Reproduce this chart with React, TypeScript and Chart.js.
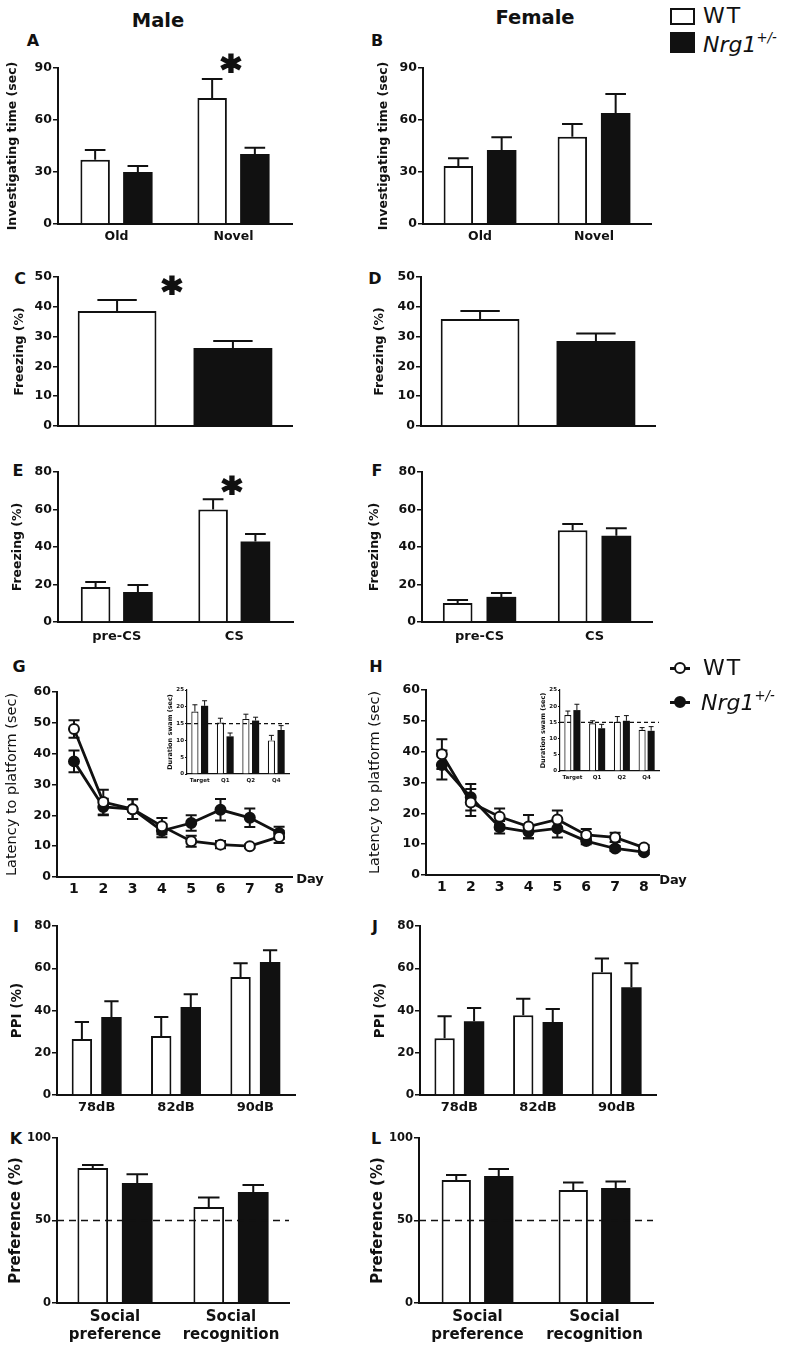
import React, { useEffect, useRef } from "react";
import { Chart, registerables } from "chart.js";

Chart.register(...registerables);

const FONT = "'DejaVu Sans', 'Liberation Sans', Arial, sans-serif";
const INK = "#111111";

// ---------------- DATA ----------------
const SERIES = ["WT", "Nrg1+/-"];

const A_CATS = ["Old", "Novel"];
const A_TICKS = [0, 30, 60, 90];
const A_WT = [37, 72.7];
const A_WT_SEM = [5.7, 11];
const A_NRG = [30, 40.4];
const A_NRG_SEM = [3.5, 3.6];

const B_WT = [33.5, 50.4];
const B_WT_SEM = [4.5, 7.3];
const B_NRG = [42.7, 64];
const B_NRG_SEM = [7.3, 11];

const CD_CATS = [""];
const CD_TICKS = [0, 10, 20, 30, 40, 50];
const C_WT = [38.6];
const C_WT_SEM = [3.7];
const C_NRG = [26.2];
const C_NRG_SEM = [2.3];
const D_WT = [35.9];
const D_WT_SEM = [2.7];
const D_NRG = [28.5];
const D_NRG_SEM = [2.5];

const EF_CATS = ["pre-CS", "CS"];
const EF_TICKS = [0, 20, 40, 60, 80];
const E_WT = [18.7, 60];
const E_WT_SEM = [2.6, 5.5];
const E_NRG = [16, 43];
const E_NRG_SEM = [3.7, 4];
const F_WT = [10.1, 49];
const F_WT_SEM = [1.6, 3.3];
const F_NRG = [13.4, 46];
const F_NRG_SEM = [2.1, 4];

const DAYS = [1, 2, 3, 4, 5, 6, 7, 8];
const GH_TICKS = [0, 10, 20, 30, 40, 50, 60];
const G_WT = [48, 24.3, 22, 16.5, 11.6, 10.5, 10, 13];
const G_WT_SEM = [2.8, 4, 3.2, 2.6, 1.8, 1.2, 0.6, 2];
const G_NRG = [37.5, 22.7, 22, 15, 17.5, 21.8, 19.2, 14.3];
const G_NRG_SEM = [3.5, 2.7, 3.2, 2.1, 2.5, 3.5, 3, 2];
const H_WT = [39.2, 23.5, 18.9, 15.7, 18, 13, 12.2, 8.9];
const H_WT_SEM = [4.8, 4.4, 2.7, 3.8, 2.9, 1.9, 1.5, 0.8];
const H_NRG = [35.7, 25.2, 15.5, 14, 15.1, 11, 8.6, 7.4];
const H_NRG_SEM = [4.7, 4.3, 2, 2.1, 2.9, 1, 0.8, 0.6];

const INSET_CATS = ["Target", "Q1", "Q2", "Q4"];
const INSET_TICKS = [0, 5, 10, 15, 20, 25];
const QUAD_CHANCE = 15;
const GI_WT = [18.6, 15.3, 16.4, 10];
const GI_WT_SEM = [2, 1.3, 1.4, 1.5];
const GI_NRG = [20.3, 11.2, 15.9, 13.1];
const GI_NRG_SEM = [1.5, 1, 1, 1.3];
const HI_WT = [17.3, 14.7, 15.2, 12.7];
const HI_WT_SEM = [1.2, 0.8, 1.6, 0.7];
const HI_NRG = [18.8, 13.2, 15.5, 12.4];
const HI_NRG_SEM = [1.8, 1.2, 1.6, 1.3];

const IJ_CATS = ["78dB", "82dB", "90dB"];
const IJ_TICKS = [0, 20, 40, 60, 80];
const I_WT = [26.5, 27.9, 55.8];
const I_WT_SEM = [8, 9, 6.6];
const I_NRG = [36.9, 41.6, 63];
const I_NRG_SEM = [7.5, 6.1, 5.5];
const J_WT = [26.9, 37.8, 58.1];
const J_WT_SEM = [10.4, 7.8, 6.5];
const J_NRG = [34.9, 34.5, 51];
const J_NRG_SEM = [6.3, 6.2, 11.4];

const KL_CATS = [["Social", "preference"], ["Social", "recognition"]];
const KL_TICKS = [0, 50, 100];
const PREF_CHANCE = 50;
const K_WT = [81.8, 58.2];
const K_WT_SEM = [1.8, 5.8];
const K_NRG = [72.7, 67.3];
const K_NRG_SEM = [5.3, 4.2];
const L_WT = [74.5, 68.5];
const L_WT_SEM = [3.1, 4.5];
const L_NRG = [77, 69.7];
const L_NRG_SEM = [4.2, 3.9];

// ---------------- PLUGINS ----------------
function drawErrors(chart: any, opts: any) {
  const ctx = chart.ctx;
  const ys = chart.scales.y;
  ctx.save();
  ctx.strokeStyle = INK;
  ctx.lineWidth = opts.width ?? 2;
  chart.data.datasets.forEach((ds: any, i: number) => {
    const errs = ds.errors;
    if (!errs) return;
    const meta = chart.getDatasetMeta(i);
    meta.data.forEach((el: any, j: number) => {
      const raw = ds.data[j];
      const v = typeof raw === "number" ? raw : raw.y;
      const e = errs[j];
      const x = el.x;
      const yHi = ys.getPixelForValue(v + e);
      const both = opts.mode === "both";
      const yLo = both ? ys.getPixelForValue(v - e) : el.y;
      const cap = opts.cap ?? Math.min((el.width || 10) * (opts.capFrac ?? 0.7), 40);
      ctx.beginPath();
      ctx.moveTo(x, yLo);
      ctx.lineTo(x, yHi);
      ctx.moveTo(x - cap / 2, yHi);
      ctx.lineTo(x + cap / 2, yHi);
      if (both) {
        ctx.moveTo(x - cap / 2, yLo);
        ctx.lineTo(x + cap / 2, yLo);
      }
      ctx.stroke();
    });
  });
  ctx.restore();
}

const errorBarPlugin = {
  id: "errbars",
  beforeDatasetsDraw(chart: any, _a: any, opts: any) {
    if (opts && opts.mode === "both") drawErrors(chart, opts);
  },
  afterDatasetsDraw(chart: any, _a: any, opts: any) {
    if (opts && opts.mode === "up") drawErrors(chart, opts);
  },
};

const refLinePlugin = {
  id: "refline",
  afterDatasetsDraw(chart: any, _a: any, opts: any) {
    if (!opts || opts.value == null) return;
    const { ctx, chartArea } = chart;
    const py = chart.scales.y.getPixelForValue(opts.value);
    ctx.save();
    ctx.strokeStyle = INK;
    ctx.lineWidth = opts.width ?? 1.5;
    ctx.setLineDash([opts.on ?? 6, opts.off ?? 4]);
    ctx.beginPath();
    ctx.moveTo(chartArea.left, py);
    ctx.lineTo(chartArea.right, py);
    ctx.stroke();
    ctx.restore();
  },
};

Chart.register(errorBarPlugin as any, refLinePlugin as any);

// ---------------- LAYOUT ----------------
type Geo = {
  x0: number; x1: number; yTop: number; yZero: number;
  titleX: number; titleSize: number; xh: number; padTop?: number; padRight?: number;
};
type Frame = { left: number; top: number; width: number; height: number; yw: number; padTop: number; padRight: number; xh: number };

function frame(g: Geo): Frame {
  const lh = g.titleSize * 1.2;
  const left = Math.round(g.titleX - lh / 2);
  const padTop = g.padTop ?? 10;
  const padRight = g.padRight ?? 6;
  const top = g.yTop - padTop;
  return {
    left, top,
    width: g.x1 - left + padRight,
    height: g.yZero - top + g.xh,
    yw: g.x0 - left, padTop, padRight, xh: g.xh,
  };
}

const GEO: Record<string, Geo> = {
  A: { x0: 58, x1: 292, yTop: 68, yZero: 224, titleX: 12, titleSize: 12.5, xh: 28 },
  B: { x0: 423, x1: 651, yTop: 68, yZero: 224, titleX: 383, titleSize: 12.5, xh: 28 },
  C: { x0: 58, x1: 292, yTop: 277, yZero: 426, titleX: 19, titleSize: 12.5, xh: 10 },
  D: { x0: 421, x1: 655, yTop: 277, yZero: 426, titleX: 379, titleSize: 12.5, xh: 10 },
  E: { x0: 58, x1: 293, yTop: 472, yZero: 622, titleX: 17, titleSize: 12.5, xh: 28 },
  F: { x0: 422, x1: 652, yTop: 472, yZero: 622, titleX: 374, titleSize: 12.5, xh: 28 },
  G: { x0: 57, x1: 293, yTop: 692, yZero: 877, titleX: 13, titleSize: 14.5, xh: 25 },
  H: { x0: 426, x1: 660, yTop: 690, yZero: 875, titleX: 376, titleSize: 14.5, xh: 25 },
  GI: { x0: 187, x1: 289, yTop: 690, yZero: 774, titleX: 170, titleSize: 6.5, xh: 14, padTop: 5, padRight: 3 },
  HI: { x0: 560, x1: 659, yTop: 690, yZero: 771, titleX: 543, titleSize: 6.5, xh: 14, padTop: 5, padRight: 3 },
  I: { x0: 57, x1: 295, yTop: 926, yZero: 1095, titleX: 17, titleSize: 13.5, xh: 26 },
  J: { x0: 420, x1: 656, yTop: 926, yZero: 1095, titleX: 380, titleSize: 13.5, xh: 26 },
  K: { x0: 57, x1: 289, yTop: 1138, yZero: 1303, titleX: 16, titleSize: 15, xh: 45 },
  L: { x0: 419, x1: 653, yTop: 1138, yZero: 1303, titleX: 378, titleSize: 15, xh: 45 },
};

// ---------------- CONFIG BUILDERS ----------------
function yScale(f: Frame, ticks: number[], title: string, o: any) {
  return {
    type: "linear",
    position: "left",
    min: ticks[0],
    max: ticks[ticks.length - 1],
    afterBuildTicks: (s: any) => { s.ticks = ticks.map((v) => ({ value: v })); },
    ticks: { color: INK, font: { family: FONT, size: o.tickSize, weight: "bold" }, padding: o.tickPad ?? 1 },
    grid: { display: true, drawOnChartArea: false, drawTicks: true, tickLength: o.tickLen ?? 5, color: INK, lineWidth: o.gridW ?? 1.5 },
    border: { display: true, color: INK, width: o.axisW ?? 2 },
    title: {
      display: true, text: title, color: INK, padding: 0,
      font: { family: FONT, size: o.titleSize, weight: o.titleWeight ?? "bold" },
    },
    afterFit: (s: any) => { s.width = f.yw; },
  };
}

function xCat(f: Frame, o: any) {
  return {
    type: "category",
    position: "bottom",
    grid: { display: false, drawTicks: false },
    border: { display: true, color: INK, width: o.axisW ?? 2 },
    ticks: { color: INK, font: { family: FONT, size: o.catSize, weight: "bold" }, padding: o.catPad, maxRotation: 0, autoSkip: false },
    afterFit: (s: any) => { s.height = f.xh; },
  };
}

function baseOptions(f: Frame, scales: any, plugins: any) {
  return {
    responsive: false,
    maintainAspectRatio: false,
    animation: false,
    devicePixelRatio: 1,
    events: [],
    layout: { padding: { top: f.padTop, right: f.padRight, left: 0, bottom: 0 } },
    scales,
    plugins: { legend: { display: false }, tooltip: { enabled: false }, ...plugins },
  };
}

function barConfig(f: Frame, p: any) {
  const bw = p.bw ?? 2;
  return {
    type: "bar",
    data: {
      labels: p.cats,
      datasets: [
        { label: SERIES[0], data: p.wt, errors: p.wtErr, backgroundColor: "#ffffff", borderColor: INK, borderWidth: bw, categoryPercentage: p.cp, barPercentage: p.bp },
        { label: SERIES[1], data: p.nrg, errors: p.nrgErr, backgroundColor: INK, borderColor: INK, borderWidth: 0, categoryPercentage: p.cp, barPercentage: p.bp },
      ],
    },
    options: baseOptions(f, { x: xCat(f, p), y: yScale(f, p.ticks, p.title, p) }, {
      errbars: { mode: "up", width: p.errW ?? 2, capFrac: p.capFrac ?? 0.7 },
      refline: { value: p.ref ?? null, on: p.dashOn, off: p.dashOff, width: p.refW },
    }),
  };
}

function lineConfig(f: Frame, p: any) {
  const pts = (arr: number[]) => DAYS.map((d, i) => ({ x: d, y: arr[i] }));
  const common = { borderColor: INK, borderWidth: 2.8, pointRadius: 5, pointBorderWidth: 2, pointBorderColor: INK, fill: false, tension: 0 };
  return {
    type: "line",
    data: {
      datasets: [
        { label: SERIES[0], data: pts(p.wt), errors: p.wtErr, ...common, pointBackgroundColor: "#ffffff", backgroundColor: "#ffffff" },
        { label: SERIES[1], data: pts(p.nrg), errors: p.nrgErr, ...common, pointBackgroundColor: INK, backgroundColor: INK },
      ],
    },
    options: baseOptions(f, {
      x: {
        type: "linear",
        position: "bottom",
        min: p.xmin,
        max: p.xmax,
        afterBuildTicks: (s: any) => { s.ticks = DAYS.map((v) => ({ value: v })); },
        grid: { display: false, drawTicks: false },
        border: { display: true, color: INK, width: 2 },
        ticks: { color: INK, font: { family: FONT, size: 14, weight: "bold" }, padding: 3.5, maxRotation: 0, autoSkip: false },
        afterFit: (s: any) => { s.height = f.xh; },
      },
      y: yScale(f, GH_TICKS, "Latency to platform (sec)", { tickSize: 12.5, titleSize: 14.5, titleWeight: "normal" }),
    }, {
      errbars: { mode: "both", width: 2, cap: 11 },
      refline: { value: null },
    }),
  };
}

// ---------------- COMPONENTS ----------------
function ChartBox({ geo, build }: { geo: Geo; build: (f: Frame) => any }) {
  const ref = useRef<HTMLCanvasElement | null>(null);
  const f = frame(geo);
  useEffect(() => {
    const chart = new Chart(ref.current as HTMLCanvasElement, build(f));
    return () => chart.destroy();
  }, []);
  return (
    <canvas
      ref={ref}
      width={f.width}
      height={f.height}
      style={{ position: "absolute", left: f.left, top: f.top, width: f.width, height: f.height }}
    />
  );
}

function Txt({ x, y, size, weight = "bold", italic = false, anchor = "center", spacing = 0, children }: any) {
  return (
    <div
      style={{
        position: "absolute", left: x, top: y,
        transform: anchor === "center" ? "translate(-50%, -50%)" : "translate(0, -50%)",
        fontFamily: FONT, fontSize: size, fontWeight: weight, fontStyle: italic ? "italic" : "normal",
        lineHeight: 1, whiteSpace: "nowrap", color: INK, letterSpacing: spacing,
      }}
    >
      {children}
    </div>
  );
}

function Star({ x, y }: { x: number; y: number }) {
  const size = 38;
  return (
    <div style={{ position: "absolute", left: x, top: y - 0.3 * size, transform: "translateX(-50%)", fontFamily: FONT, fontWeight: "bold", fontSize: size, lineHeight: 1, color: INK, WebkitTextStroke: `2.2px ${INK}` } as any}>
      *
    </div>
  );
}

function NrgLabel({ x, y, size }: { x: number; y: number; size: number }) {
  return (
    <Txt x={x} y={y} size={size} weight="normal" italic anchor="left">
      Nrg1<span style={{ fontSize: "0.6em", position: "relative", top: "-0.75em" }}>+/-</span>
    </Txt>
  );
}

function LineKey({ x, y, filled }: { x: number; y: number; filled: boolean }) {
  return (
    <>
      <div style={{ position: "absolute", left: x, top: y - 1.5, width: 20, height: 3, background: INK }} />
      <div style={{ position: "absolute", left: x + 4, top: y - 6, width: 8, height: 8, borderRadius: "50%", border: `2px solid ${INK}`, background: filled ? INK : "#fff" }} />
    </>
  );
}

export default function App() {
  const barA = (f: Frame) => barConfig(f, { cats: A_CATS, wt: A_WT, wtErr: A_WT_SEM, nrg: A_NRG, nrgErr: A_NRG_SEM, ticks: A_TICKS, title: "Investigating time (sec)", tickSize: 12.5, catSize: 12.5, catPad: 5.5, titleSize: 12.5, cp: 0.73, bp: 0.69 });
  const barB = (f: Frame) => barConfig(f, { cats: A_CATS, wt: B_WT, wtErr: B_WT_SEM, nrg: B_NRG, nrgErr: B_NRG_SEM, ticks: A_TICKS, title: "Investigating time (sec)", tickSize: 12.5, catSize: 12.5, catPad: 5.5, titleSize: 12.5, cp: 0.76, bp: 0.68 });
  const barC = (f: Frame) => barConfig(f, { cats: CD_CATS, wt: C_WT, wtErr: C_WT_SEM, nrg: C_NRG, nrgErr: C_NRG_SEM, ticks: CD_TICKS, title: "Freezing (%)", tickSize: 12.5, catSize: 12, catPad: 4, titleSize: 12.5, cp: 0.99, bp: 0.68, capFrac: 0.5 });
  const barD = (f: Frame) => barConfig(f, { cats: CD_CATS, wt: D_WT, wtErr: D_WT_SEM, nrg: D_NRG, nrgErr: D_NRG_SEM, ticks: CD_TICKS, title: "Freezing (%)", tickSize: 12.5, catSize: 12, catPad: 4, titleSize: 12.5, cp: 0.99, bp: 0.68, capFrac: 0.5 });
  const barE = (f: Frame) => barConfig(f, { cats: EF_CATS, wt: E_WT, wtErr: E_WT_SEM, nrg: E_NRG, nrgErr: E_NRG_SEM, ticks: EF_TICKS, title: "Freezing (%)", tickSize: 12.5, catSize: 13, catPad: 7, titleSize: 12.5, cp: 0.72, bp: 0.7 });
  const barF = (f: Frame) => barConfig(f, { cats: EF_CATS, wt: F_WT, wtErr: F_WT_SEM, nrg: F_NRG, nrgErr: F_NRG_SEM, ticks: EF_TICKS, title: "Freezing (%)", tickSize: 12.5, catSize: 13, catPad: 7, titleSize: 12.5, cp: 0.76, bp: 0.68 });
  const lineG = (f: Frame) => lineConfig(f, { wt: G_WT, wtErr: G_WT_SEM, nrg: G_NRG, nrgErr: G_NRG_SEM, xmin: 0.42, xmax: 8.44 });
  const lineH = (f: Frame) => lineConfig(f, { wt: H_WT, wtErr: H_WT_SEM, nrg: H_NRG, nrgErr: H_NRG_SEM, xmin: 0.45, xmax: 8.52 });
  const inset = (wt: number[], wtErr: number[], nrg: number[], nrgErr: number[], cp: number, bp: number) => (f: Frame) =>
    barConfig(f, {
      cats: INSET_CATS, wt, wtErr, nrg, nrgErr, ticks: INSET_TICKS, title: "Duration swam (sec)",
      tickSize: 5.5, catSize: 5.5, catPad: 3.5, titleSize: 6.5, cp, bp, bw: 1.2, errW: 1, capFrac: 0.7,
      tickLen: 2, gridW: 1, axisW: 1.2, tickPad: 1, ref: QUAD_CHANCE, dashOn: 4, dashOff: 3, refW: 1.3,
    });
  const barI = (f: Frame) => barConfig(f, { cats: IJ_CATS, wt: I_WT, wtErr: I_WT_SEM, nrg: I_NRG, nrgErr: I_NRG_SEM, ticks: IJ_TICKS, title: "PPI (%)", tickSize: 12, catSize: 13, catPad: 5, titleSize: 13.5, cp: 0.745, bp: 0.69 });
  const barJ = (f: Frame) => barConfig(f, { cats: IJ_CATS, wt: J_WT, wtErr: J_WT_SEM, nrg: J_NRG, nrgErr: J_NRG_SEM, ticks: IJ_TICKS, title: "PPI (%)", tickSize: 12, catSize: 13, catPad: 5, titleSize: 13.5, cp: 0.75, bp: 0.69 });
  const barK = (f: Frame) => barConfig(f, { cats: KL_CATS, wt: K_WT, wtErr: K_WT_SEM, nrg: K_NRG, nrgErr: K_NRG_SEM, ticks: KL_TICKS, title: "Preference (%)", tickSize: 11.5, catSize: 15, catPad: 5, titleSize: 15, cp: 0.767, bp: 0.69, ref: PREF_CHANCE, dashOn: 7, dashOff: 5, refW: 1.5 });
  const barL = (f: Frame) => barConfig(f, { cats: KL_CATS, wt: L_WT, wtErr: L_WT_SEM, nrg: L_NRG, nrgErr: L_NRG_SEM, ticks: KL_TICKS, title: "Preference (%)", tickSize: 11.5, catSize: 15, catPad: 5, titleSize: 15, cp: 0.726, bp: 0.69, ref: PREF_CHANCE, dashOn: 7, dashOff: 5, refW: 1.5 });

  return (
    <div style={{ position: "absolute", left: 0, top: 0, width: 786, height: 1348, background: "#ffffff", overflow: "hidden" }}>
      <Txt x={158} y={21} size={19.5}>Male</Txt>
      <Txt x={535} y={18} size={19.5}>Female</Txt>

      {/* top legend */}
      <div style={{ position: "absolute", left: 670, top: 8, width: 25, height: 17, boxSizing: "border-box", border: `2px solid ${INK}`, background: "#fff" }} />
      <Txt x={703} y={16} size={22} weight="normal" anchor="left" spacing={2}>{SERIES[0]}</Txt>
      <div style={{ position: "absolute", left: 670, top: 32, width: 25, height: 21, background: INK }} />
      <NrgLabel x={703} y={45} size={22} />

      {/* panel letters */}
      <Txt x={33} y={41} size={16}>A</Txt>
      <Txt x={377} y={41} size={16}>B</Txt>
      <Txt x={20} y={279} size={16}>C</Txt>
      <Txt x={375} y={279} size={16}>D</Txt>
      <Txt x={18} y={471} size={16}>E</Txt>
      <Txt x={377} y={471} size={16}>F</Txt>
      <Txt x={19} y={667} size={16}>G</Txt>
      <Txt x={376} y={667} size={16}>H</Txt>
      <Txt x={16} y={927} size={16}>I</Txt>
      <Txt x={375} y={927} size={16}>J</Txt>
      <Txt x={16} y={1139} size={16}>K</Txt>
      <Txt x={376} y={1139} size={16}>L</Txt>

      <ChartBox geo={GEO.A} build={barA} />
      <ChartBox geo={GEO.B} build={barB} />
      <ChartBox geo={GEO.C} build={barC} />
      <ChartBox geo={GEO.D} build={barD} />
      <ChartBox geo={GEO.E} build={barE} />
      <ChartBox geo={GEO.F} build={barF} />
      <ChartBox geo={GEO.G} build={lineG} />
      <ChartBox geo={GEO.H} build={lineH} />
      <ChartBox geo={GEO.GI} build={inset(GI_WT, GI_WT_SEM, GI_NRG, GI_NRG_SEM, 0.76, 0.74)} />
      <ChartBox geo={GEO.HI} build={inset(HI_WT, HI_WT_SEM, HI_NRG, HI_NRG_SEM, 0.73, 0.78)} />
      <ChartBox geo={GEO.I} build={barI} />
      <ChartBox geo={GEO.J} build={barJ} />
      <ChartBox geo={GEO.K} build={barK} />
      <ChartBox geo={GEO.L} build={barL} />

      <Star x={231} y={61} />
      <Star x={172} y={283} />
      <Star x={232} y={483} />

      <Txt x={310} y={878} size={13}>Day</Txt>
      <Txt x={673} y={879} size={13}>Day</Txt>

      {/* line legend */}
      <LineKey x={670} y={668} filled={false} />
      <Txt x={703} y={668} size={22} weight="normal" anchor="left" spacing={2}>{SERIES[0]}</Txt>
      <LineKey x={670} y={702} filled={true} />
      <NrgLabel x={701} y={703} size={22} />
    </div>
  );
}
